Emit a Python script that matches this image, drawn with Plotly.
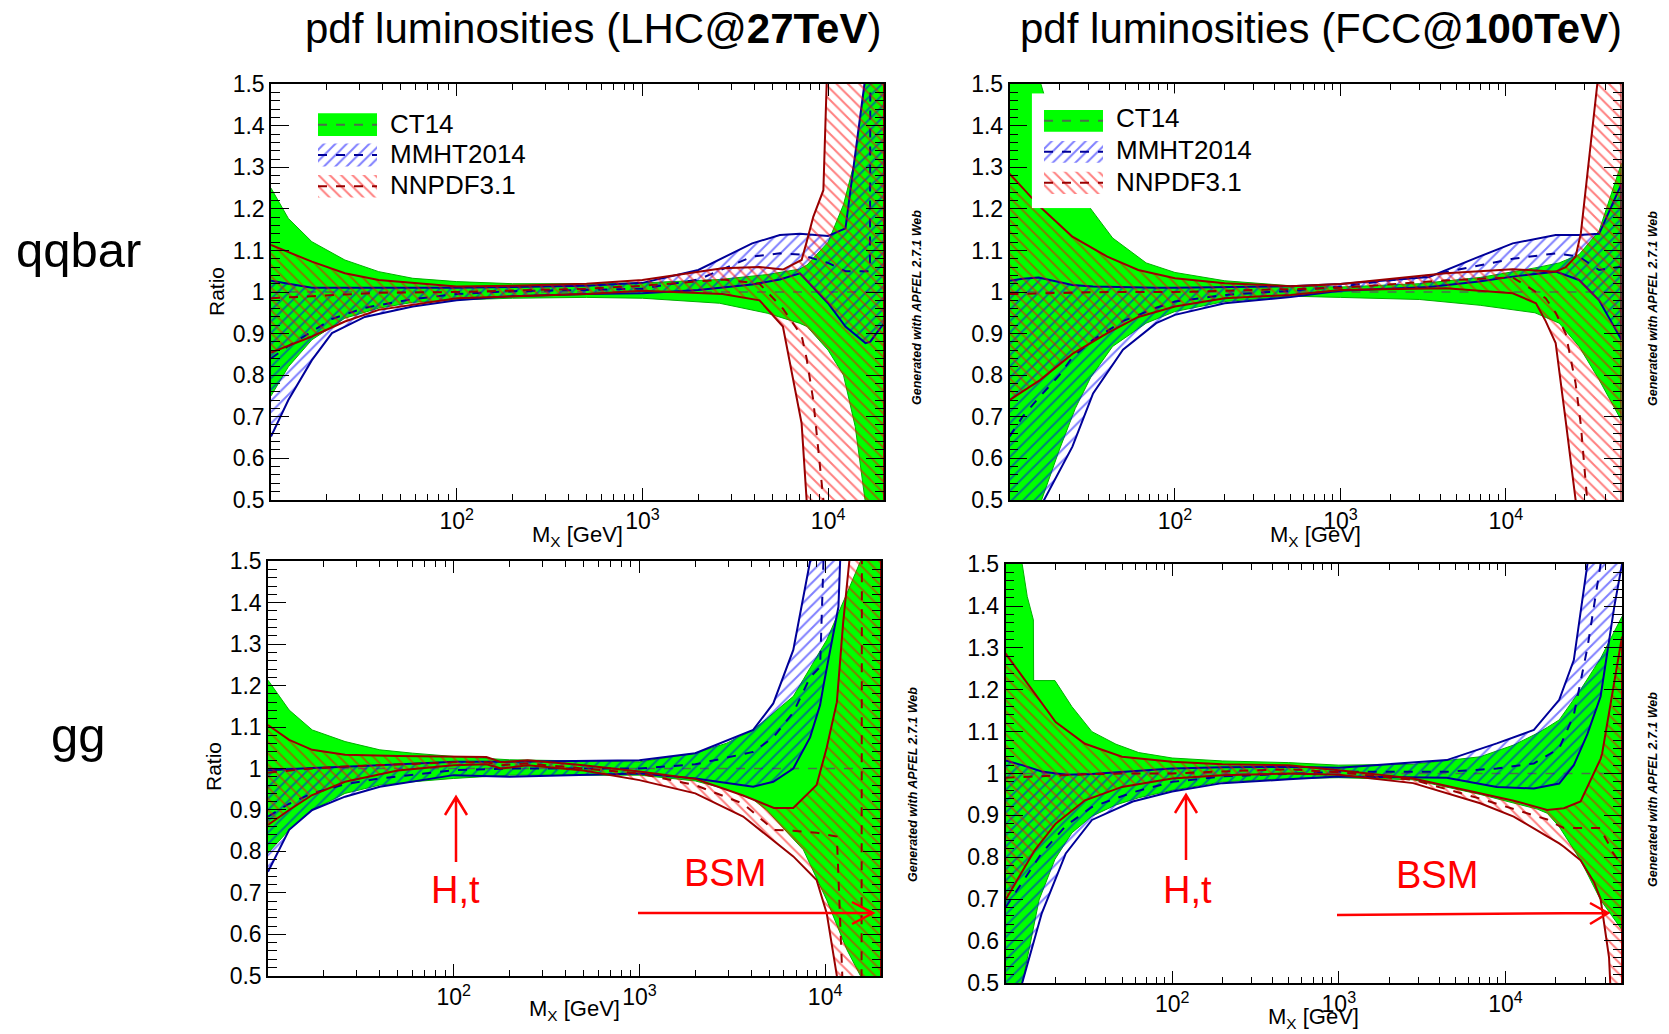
import plotly.graph_objects as go

W, H = 1669, 1034
FONT = "Liberation Sans, Arial, Helvetica, sans-serif"

# ---------------- data (M_X in GeV, ratio to CT14 central) ----------------
# --- qqbar, LHC 27 TeV ---
qq27_ct14_x = [10, 12.4, 16.6, 25, 38, 58, 100, 200, 500, 1000, 2600, 4700, 7000, 7700, 10000, 12100, 14000, 15800, 20000]
qq27_ct14_up = [1.25, 1.177, 1.121, 1.077, 1.049, 1.033, 1.025, 1.02, 1.02, 1.022, 1.03, 1.042, 1.055, 1.065, 1.12, 1.21, 1.32, 1.5, 1.75]
qq27_ct14_lo = [0.75, 0.82, 0.885, 0.937, 0.961, 0.975, 0.981, 0.985, 0.987, 0.985, 0.973, 0.949, 0.925, 0.917, 0.86, 0.8, 0.676, 0.5, 0.3]

qq27_mmht_x = [10, 12.4, 16.6, 21.3, 32, 58, 100, 200, 500, 1000, 2000, 3900, 5500, 7050, 10000, 12400, 15900, 16800, 16900, 20000]
qq27_mmht_up = [1.027, 1.02, 1.01, 1.01, 1.01, 1.01, 1.01, 1.012, 1.015, 1.022, 1.053, 1.117, 1.137, 1.14, 1.135, 1.153, 1.5, 1.6, 1.61, 1.8]
qq27_mmht_lo = [0.652, 0.74, 0.836, 0.901, 0.94, 0.965, 0.98, 0.99, 0.995, 0.997, 1.005, 1.018, 1.03, 1.045, 0.973, 0.917, 0.877, 0.88, 0.881, 0.925]
qq27_mmht_cen = [0.84, 0.87, 0.905, 0.935, 0.962, 0.983, 0.995, 1.002, 1.005, 1.008, 1.03, 1.085, 1.093, 1.09, 1.07, 1.05, 1.05, 1.05, 1.6, 1.8]

qq27_nnpdf_x = [10, 16.6, 25, 38, 100, 200, 500, 1000, 2700, 4270, 5710, 7200, 7660, 8320, 9430, 9820, 20000]
qq27_nnpdf_up = [1.113, 1.073, 1.045, 1.029, 1.013, 1.015, 1.02, 1.029, 1.057, 1.06, 1.054, 1.077, 1.12, 1.181, 1.245, 1.5, 1.9]
qq27_nnpdf_lo = [0.854, 0.893, 0.929, 0.957, 0.985, 0.99, 0.995, 1.003, 0.995, 0.98, 0.917, 0.684, 0.5, 0.35, 0.2, 0.15, 0.0]
qq27_nnpdf_cen = [0.985, 0.99, 0.995, 0.998, 1.0, 1.003, 1.008, 1.015, 1.03, 1.02, 0.96, 0.895, 0.84, 0.74, 0.5, 0.45, 0.3]

# --- qqbar, FCC 100 TeV ---
qq100_ct14_x = [10, 12, 15.5, 20, 25, 31, 42, 67, 100, 200, 500, 1000, 3000, 7000, 15000, 21000, 27700, 36600, 50000]
qq100_ct14_up = [1.75, 1.62, 1.5, 1.35, 1.26, 1.2, 1.13, 1.07, 1.047, 1.027, 1.015, 1.012, 1.02, 1.035, 1.058, 1.07, 1.09, 1.147, 1.31]
qq100_ct14_lo = [0.25, 0.37, 0.49, 0.62, 0.72, 0.795, 0.869, 0.925, 0.953, 0.977, 0.99, 0.987, 0.982, 0.968, 0.95, 0.925, 0.869, 0.789, 0.69]

qq100_mmht_x = [10, 12, 15, 20, 24, 32, 48.5, 77, 100, 200, 500, 1000, 3440, 6900, 11000, 20000, 27700, 36600, 50000]
qq100_mmht_up = [1.027, 1.032, 1.035, 1.025, 1.017, 1.013, 1.011, 1.01, 1.01, 1.011, 1.014, 1.019, 1.036, 1.085, 1.117, 1.137, 1.137, 1.14, 1.26]
qq100_mmht_lo = [0.35, 0.42, 0.475, 0.57, 0.628, 0.756, 0.861, 0.925, 0.945, 0.973, 0.988, 1.003, 1.012, 1.025, 1.037, 1.049, 1.029, 0.98, 0.885]
qq100_mmht_cen = [0.652, 0.70, 0.745, 0.80, 0.843, 0.885, 0.93, 0.962, 0.977, 0.993, 1.003, 1.013, 1.04, 1.063, 1.08, 1.093, 1.085, 1.053, 1.061]

qq100_nnpdf_x = [10, 15.3, 24, 39, 60, 100, 200, 500, 1000, 4340, 11000, 15200, 17400, 20000, 23000, 26400, 28400, 31000, 35700, 50000]
qq100_nnpdf_up = [1.285, 1.205, 1.133, 1.085, 1.053, 1.033, 1.021, 1.014, 1.019, 1.045, 1.055, 1.052, 1.05, 1.049, 1.06, 1.085, 1.141, 1.28, 1.5, 1.9]
qq100_nnpdf_lo = [0.74, 0.788, 0.851, 0.901, 0.94, 0.965, 0.985, 0.993, 1.005, 1.009, 0.997, 0.973, 0.93, 0.877, 0.69, 0.5, 0.38, 0.25, 0.1, 0.0]
qq100_nnpdf_cen = [0.995, 0.997, 0.999, 1.0, 1.0, 1.0, 1.003, 1.006, 1.01, 1.028, 1.035, 1.0, 0.985, 0.95, 0.9, 0.78, 0.68, 0.5, 0.4, 0.3]

# --- gg, LHC 27 TeV ---
gg27_ct14_x = [10, 13, 17.3, 26, 40, 60, 100, 200, 1000, 2000, 2950, 4100, 4840, 6740, 7640, 10200, 13100, 15500, 20000]
gg27_ct14_up = [1.213, 1.141, 1.093, 1.065, 1.045, 1.037, 1.029, 1.021, 1.016, 1.037, 1.061, 1.093, 1.12, 1.174, 1.215, 1.31, 1.422, 1.5, 1.65]
gg27_ct14_lo = [0.796, 0.852, 0.9, 0.94, 0.96, 0.968, 0.976, 0.984, 0.984, 0.97, 0.95, 0.925, 0.9, 0.83, 0.804, 0.683, 0.563, 0.5, 0.35]

gg27_mmht_x = [10, 13, 17.3, 26, 40, 100, 200, 1000, 2000, 4100, 5260, 6740, 8300, 9400, 9800, 11800, 12050, 20000]
gg27_mmht_up = [0.996, 0.999, 1.001, 1.004, 1.008, 1.016, 1.016, 1.02, 1.037, 1.093, 1.157, 1.286, 1.5, 1.6, 1.65, 1.75, 1.76, 2.0]
gg27_mmht_lo = [0.751, 0.852, 0.9, 0.932, 0.956, 0.984, 0.98, 0.988, 0.976, 0.956, 0.968, 1.0, 1.075, 1.153, 1.2, 1.39, 1.5, 2.0]
gg27_mmht_cen = [0.884, 0.915, 0.94, 0.962, 0.976, 0.996, 1.0, 1.0, 1.01, 1.04, 1.075, 1.135, 1.22, 1.245, 1.5, 1.7, 1.7, 1.9]

gg27_nnpdf_x = [10, 13, 17.3, 26, 50, 100, 150, 180, 250, 500, 1000, 2000, 3620, 5300, 6740, 9000, 10200, 11570, 12500, 13500, 15700, 15800, 20000]
gg27_nnpdf_up = [1.105, 1.069, 1.045, 1.033, 1.03, 1.029, 1.028, 1.015, 1.02, 1.008, 0.993, 0.975, 0.935, 0.905, 0.905, 0.96, 1.05, 1.16, 1.35, 1.5, 1.8, 1.82, 2.0]
gg27_nnpdf_lo = [0.864, 0.9, 0.936, 0.968, 0.995, 1.008, 1.01, 1.0, 1.008, 0.995, 0.972, 0.94, 0.884, 0.825, 0.788, 0.731, 0.651, 0.5, 0.4, 0.3, 0.15, 0.14, 0.0]
gg27_nnpdf_cen = [0.99, 0.995, 1.0, 1.005, 1.01, 1.015, 1.015, 1.008, 1.012, 1.0, 0.988, 0.96, 0.915, 0.852, 0.85, 0.845, 0.84, 0.836, 0.45, 0.3, 0.3, 1.8, 1.8]

# --- gg, FCC 100 TeV ---
gg100_ct14_x = [10, 12.6, 13.5, 14.7, 14.75, 15.9, 19.8, 25, 33, 46, 63, 100, 200, 500, 1000, 2790, 7050, 11200, 15500, 17800, 21000, 28200, 37200, 50000]
gg100_ct14_up = [1.6, 1.5, 1.423, 1.367, 1.222, 1.222, 1.222, 1.16, 1.1, 1.07, 1.05, 1.037, 1.03, 1.026, 1.02, 1.022, 1.04, 1.068, 1.096, 1.11, 1.128, 1.2, 1.275, 1.375]
gg100_ct14_lo = [0.3, 0.5, 0.56, 0.63, 0.632, 0.698, 0.795, 0.858, 0.898, 0.925, 0.942, 0.96, 0.98, 0.988, 0.99, 0.985, 0.95, 0.93, 0.915, 0.905, 0.873, 0.793, 0.698, 0.626]

gg100_mmht_x = [10, 12.6, 16.5, 23, 33, 58, 100, 200, 500, 1000, 4440, 8870, 14800, 21000, 25700, 31000, 37200, 45000, 50000]
gg100_mmht_up = [1.031, 1.02, 1.005, 0.997, 0.999, 1.005, 1.012, 1.015, 1.016, 1.014, 1.032, 1.072, 1.104, 1.176, 1.271, 1.5, 1.7, 1.9, 2.0]
gg100_mmht_lo = [0.3, 0.5, 0.666, 0.809, 0.889, 0.933, 0.957, 0.977, 0.986, 0.993, 0.99, 0.968, 0.964, 0.976, 1.02, 1.094, 1.184, 1.4, 1.5]
gg100_mmht_cen = [0.68, 0.74, 0.81, 0.875, 0.92, 0.955, 0.98, 0.993, 1.0, 1.004, 1.004, 1.012, 1.024, 1.06, 1.14, 1.3, 1.5, 1.7, 1.9]

gg100_nnpdf_x = [10, 15, 20, 30, 50, 100, 200, 500, 1000, 2790, 7050, 11200, 17800, 21000, 22400, 28200, 34000, 37200, 38000, 41800, 42500, 50000]
gg100_nnpdf_up = [1.287, 1.191, 1.123, 1.071, 1.04, 1.028, 1.022, 1.02, 1.008, 0.988, 0.953, 0.935, 0.913, 0.915, 0.917, 0.933, 1.0, 1.035, 1.048, 1.144, 1.16, 1.327]
gg100_nnpdf_lo = [0.698, 0.817, 0.88, 0.936, 0.968, 0.988, 0.996, 1.0, 0.997, 0.977, 0.929, 0.897, 0.85, 0.833, 0.825, 0.793, 0.74, 0.70, 0.68, 0.561, 0.5, 0.2]
gg100_nnpdf_cen = [0.99, 0.993, 0.996, 0.998, 1.0, 1.0, 1.005, 1.01, 1.003, 0.985, 0.94, 0.915, 0.89, 0.875, 0.87, 0.87, 0.87, 0.87, 0.86, 0.83, 0.82, 0.78]

CT14_REF = 1.0  # CT14 central value is the reference (ratio = 1)

pdf_names = ["CT14", "MMHT2014", "NNPDF3.1"]
panel_titles = ["pdf luminosities (LHC@<b>27TeV</b>)", "pdf luminosities (FCC@<b>100TeV</b>)"]
row_labels = ["qqbar", "gg"]
decade_vals = [100, 1000, 10000]
decade_text = ["10<sup>2</sup>", "10<sup>3</sup>", "10<sup>4</sup>"]
ytick_vals = [0.5, 0.6, 0.7, 0.8, 0.9, 1.0, 1.1, 1.2, 1.3, 1.4, 1.5]
ytick_text = ["0.5", "0.6", "0.7", "0.8", "0.9", "1", "1.1", "1.2", "1.3", "1.4", "1.5"]

# ---------------- styles ----------------
GREEN = "#00ff00"
GREEN_EDGE = "#00b000"
CT_DASH = "#4a704a"
BLUE = "#0000ff"
NAVY = "#000099"
RED = "#ff0000"
DRED = "#990000"
SOL = 0.25
pat_mmht = dict(shape="/", fgcolor=BLUE, bgcolor="rgba(0,0,0,0)", size=8, solidity=SOL, fillmode="overlay")
pat_nnpdf = dict(shape="\\", fgcolor=RED, bgcolor="rgba(0,0,0,0)", size=8, solidity=SOL, fillmode="overlay")


def pxx(x):
    return x / W


def pxy(y):
    return 1 - y / H


fig = go.Figure()

panels = [
    ("x", "y", (qq27_ct14_x, qq27_ct14_up, qq27_ct14_lo,
                qq27_mmht_x, qq27_mmht_up, qq27_mmht_lo, qq27_mmht_cen,
                qq27_nnpdf_x, qq27_nnpdf_up, qq27_nnpdf_lo, qq27_nnpdf_cen)),
    ("x2", "y2", (qq100_ct14_x, qq100_ct14_up, qq100_ct14_lo,
                  qq100_mmht_x, qq100_mmht_up, qq100_mmht_lo, qq100_mmht_cen,
                  qq100_nnpdf_x, qq100_nnpdf_up, qq100_nnpdf_lo, qq100_nnpdf_cen)),
    ("x3", "y3", (gg27_ct14_x, gg27_ct14_up, gg27_ct14_lo,
                  gg27_mmht_x, gg27_mmht_up, gg27_mmht_lo, gg27_mmht_cen,
                  gg27_nnpdf_x, gg27_nnpdf_up, gg27_nnpdf_lo, gg27_nnpdf_cen)),
    ("x4", "y4", (gg100_ct14_x, gg100_ct14_up, gg100_ct14_lo,
                  gg100_mmht_x, gg100_mmht_up, gg100_mmht_lo, gg100_mmht_cen,
                  gg100_nnpdf_x, gg100_nnpdf_up, gg100_nnpdf_lo, gg100_nnpdf_cen)),
]


def band_xy(xs, up, lo):
    return list(xs) + list(xs)[::-1], list(up) + list(lo)[::-1]


common = dict(mode="lines", showlegend=False, hoverinfo="skip")
for xa, ya, d in panels:
    (cx, cu, cl, mx, mu, ml, mc, nx, nu, nl, nc) = d
    bx, by = band_xy(cx, cu, cl)
    fig.add_trace(go.Scatter(x=bx, y=by, xaxis=xa, yaxis=ya, fill="toself", fillcolor=GREEN,
                             line=dict(color=GREEN_EDGE, width=1), name=pdf_names[0], **common))
    fig.add_trace(go.Scatter(x=[cx[0], cx[-1]], y=[CT14_REF, CT14_REF], xaxis=xa, yaxis=ya,
                             line=dict(color=CT_DASH, width=1.5, dash="dash"), **common))
    bx, by = band_xy(mx, mu, ml)
    fig.add_trace(go.Scatter(x=bx, y=by, xaxis=xa, yaxis=ya, fill="toself", fillcolor="rgba(0,0,0,0)",
                             fillpattern=pat_mmht, line=dict(color=NAVY, width=2), name=pdf_names[1], **common))
    fig.add_trace(go.Scatter(x=mx, y=mc, xaxis=xa, yaxis=ya, line=dict(color=NAVY, width=2, dash="dash"), **common))
    bx, by = band_xy(nx, nu, nl)
    fig.add_trace(go.Scatter(x=bx, y=by, xaxis=xa, yaxis=ya, fill="toself", fillcolor="rgba(0,0,0,0)",
                             fillpattern=pat_nnpdf, line=dict(color=DRED, width=2), name=pdf_names[2], **common))
    fig.add_trace(go.Scatter(x=nx, y=nc, xaxis=xa, yaxis=ya, line=dict(color=DRED, width=2, dash="dash"), **common))

# ---------------- axes ----------------
minor_x = [m * 10 ** e for e in range(1, 5) for m in range(2, 10)]
minor_y = [round(0.5 + 0.02 * i, 2) for i in range(51)]

boxes = [(271, 884, 84, 500), (1009.5, 1621.5, 84, 500), (268, 881, 561, 976), (1005.5, 1622, 564, 983)]
xranges = [[1, 4.301], [1, 4.699], [1, 4.301], [1, 4.699]]

layout_axes = {}
for i, ((l, r, t, b), xr) in enumerate(zip(boxes, xranges)):
    sfx = "" if i == 0 else str(i + 1)
    layout_axes["xaxis" + sfx] = dict(
        type="log", domain=[l / W, r / W], range=xr, anchor="y" + sfx, automargin=False,
        showline=True, linecolor="black", linewidth=1.5, mirror="ticks",
        ticks="inside", ticklen=12, tickwidth=1, tickcolor="black",
        tickmode="array", tickvals=decade_vals, ticktext=decade_text,
        tickfont=dict(size=23, family=FONT, color="black"),
        showgrid=False, zeroline=False, fixedrange=True,
        minor=dict(ticks="inside", ticklen=6, tickwidth=1, tickcolor="black",
                   tickmode="array", tickvals=minor_x, showgrid=False),
    )
    layout_axes["yaxis" + sfx] = dict(
        domain=[1 - b / H, 1 - t / H], range=[0.4995, 1.5005], anchor="x" + sfx, automargin=False,
        showline=True, linecolor="black", linewidth=1.5, mirror="ticks",
        ticks="inside", ticklen=18, tickwidth=1, tickcolor="black",
        tickmode="array", tickvals=ytick_vals, ticktext=ytick_text,
        tickfont=dict(size=23, family=FONT, color="black"),
        showgrid=False, zeroline=False, fixedrange=True,
        minor=dict(ticks="inside", ticklen=9, tickwidth=1, tickcolor="black",
                   tickmode="array", tickvals=minor_y, showgrid=False),
    )

# ---------------- legend keys (drawn in small pixel-unit helper axes) ----------------
legend_specs = [
    dict(box=(300, 640, 100, 205), bg=False, sw=(318, 377), rows=[(113.3, 136), (143.5, 166.5), (175, 197.5)],
         tx=388, ty=[123.5, 153.5, 185]),
    dict(box=(1031.7, 1290, 93.3, 208.3), bg=True, sw=(1044, 1103), rows=[(110, 131.7), (141, 162.7), (171.7, 194)],
         tx=1114, ty=[118.5, 150, 182]),
]
legend_fill = [dict(fillcolor=GREEN), dict(fillcolor="rgba(0,0,0,0)", fillpattern=pat_mmht),
               dict(fillcolor="rgba(0,0,0,0)", fillpattern=pat_nnpdf)]
legend_dash = [CT_DASH, NAVY, DRED]

ann = []


def text(x, y, s, size, color="black", angle=0, xanchor="center"):
    ann.append(dict(x=pxx(x), y=pxy(y), xref="paper", yref="paper", text=s, showarrow=False,
                    font=dict(size=size, family=FONT, color=color), textangle=angle,
                    xanchor=xanchor, yanchor="middle"))


for j, spec in enumerate(legend_specs):
    sfx = str(5 + j)
    l, r, t, b = spec["box"]
    layout_axes["xaxis" + sfx] = dict(domain=[l / W, r / W], range=[l, r], anchor="y" + sfx,
                                      visible=False, fixedrange=True, automargin=False)
    layout_axes["yaxis" + sfx] = dict(domain=[1 - b / H, 1 - t / H], range=[b, t], anchor="x" + sfx,
                                      visible=False, fixedrange=True, automargin=False)
    if spec["bg"]:
        fig.add_trace(go.Scatter(x=[l, r, r, l, l], y=[t, t, b, b, t], xaxis="x" + sfx, yaxis="y" + sfx,
                                 fill="toself", fillcolor="white", line=dict(width=0), **common))
    sl, sr = spec["sw"]
    for k, (rt, rb) in enumerate(spec["rows"]):
        fig.add_trace(go.Scatter(x=[sl, sr, sr, sl, sl], y=[rt, rt, rb, rb, rt], xaxis="x" + sfx, yaxis="y" + sfx,
                                 fill="toself", line=dict(width=0), **legend_fill[k], **common))
        mid = (rt + rb) / 2
        fig.add_trace(go.Scatter(x=[sl, sr], y=[mid, mid], xaxis="x" + sfx, yaxis="y" + sfx,
                                 line=dict(color=legend_dash[k], width=2, dash="dash"), **common))
        text(spec["tx"], spec["ty"][k], pdf_names[k], 26, xanchor="left")

# ---------------- annotations ----------------
text(593, 28, panel_titles[0], 42)
text(1321, 28, panel_titles[1], 42)
text(78, 250, row_labels[0], 49)
text(78, 735, row_labels[1], 49)
text(216, 291, "Ratio", 21, angle=-90)
text(213, 767, "Ratio", 21, angle=-90)
for (x, y) in [(577, 536), (1315, 536), (574, 1010), (1313, 1018)]:
    text(x, y, "M<sub>X</sub> [GeV]", 22)
apfel = "<b><i>Generated with APFEL 2.7.1 Web</i></b>"
for (x, y) in [(917, 308), (1653, 309), (913, 785), (1653, 790)]:
    text(x, y, apfel, 12.5, angle=-90)
text(455, 890, "H,t", 38, color=RED)
text(1187, 890, "H,t", 38, color=RED)
text(725, 873, "BSM", 38, color=RED)
text(1437, 875, "BSM", 38, color=RED)


def P(x, y):
    return f"{pxx(x):.5f},{pxy(y):.5f}"


arrow_paths = [
    f"M {P(456, 862)} L {P(456, 797)} M {P(445, 815)} L {P(456, 797)} L {P(467, 815)}",
    f"M {P(1186, 860)} L {P(1186, 795)} M {P(1175, 813)} L {P(1186, 795)} L {P(1197, 813)}",
    f"M {P(638, 913)} L {P(873, 913)} M {P(852, 902)} L {P(873, 913)} L {P(852, 924)}",
    f"M {P(1337, 915)} L {P(1608, 913)} M {P(1590, 903)} L {P(1608, 913)} L {P(1590, 924)}",
]
shapes = [dict(type="path", xref="paper", yref="paper", path=p, line=dict(color=RED, width=2.5))
          for p in arrow_paths]

fig.update_layout(
    width=W, height=H, margin=dict(l=0, r=0, t=0, b=0, autoexpand=False),
    paper_bgcolor="white", plot_bgcolor="rgba(0,0,0,0)",
    font=dict(family=FONT, color="black"),
    showlegend=False,
    annotations=ann, shapes=shapes,
    **layout_axes,
)

fig.write_html("out.html")
